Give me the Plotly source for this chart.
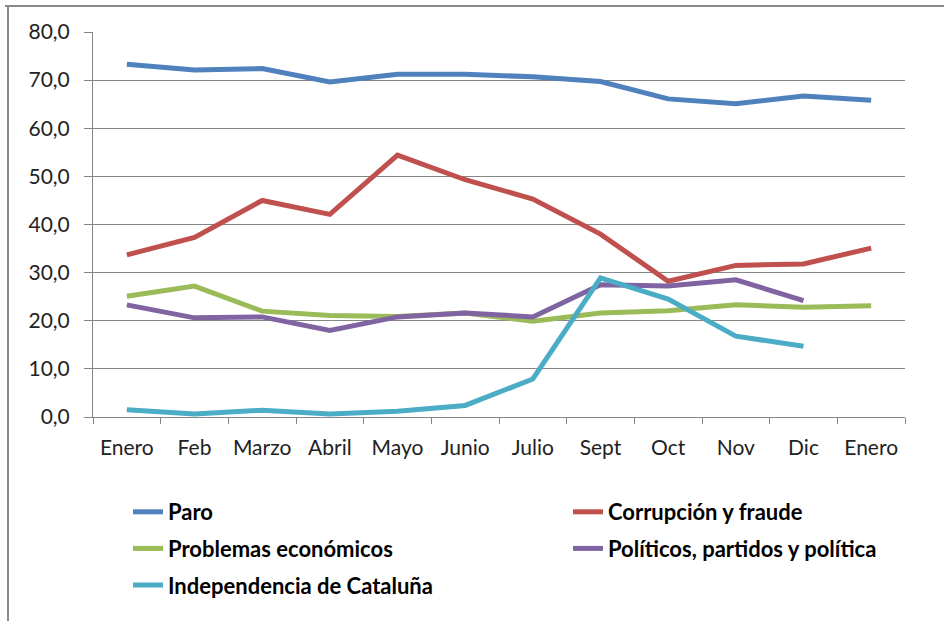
import plotly.graph_objects as go

months = ["Enero", "Feb", "Marzo", "Abril", "Mayo", "Junio", "Julio",
          "Sept", "Oct", "Nov", "Dic", "Enero"]

paro = [73.3, 72.1, 72.4, 69.6, 71.2, 71.2, 70.7, 69.7, 66.1, 65.1, 66.7, 65.8]
corrupcion = [33.7, 37.3, 45.0, 42.1, 54.4, 49.3, 45.3, 38.0, 28.2, 31.5, 31.8, 35.1]
economicos = [25.1, 27.2, 22.0, 21.1, 20.9, 21.6, 19.9, 21.6, 22.1, 23.3, 22.8, 23.1]
politicos = [23.3, 20.6, 20.8, 18.0, 20.8, 21.6, 20.8, 27.5, 27.2, 28.5, 24.2, None]
cataluna = [1.5, 0.6, 1.4, 0.6, 1.2, 2.4, 7.9, 28.9, 24.5, 16.8, 14.7, None]

series = [
    ("Paro", paro, "#4F81BD", "legend"),
    ("Corrupción y fraude", corrupcion, "#C0504D", "legend2"),
    ("Problemas económicos", economicos, "#9BBB59", "legend"),
    ("Políticos, partidos y política", politicos, "#8064A2", "legend2"),
    ("Independencia de Cataluña", cataluna, "#4BACC6", "legend"),
]

x = list(range(len(months)))

fig = go.Figure()
for name, vals, color, leg in series:
    fig.add_trace(go.Scatter(
        x=x, y=vals, name=name, mode="lines",
        line=dict(color=color, width=5),
        legend=leg, legendgroup=name,
        connectgaps=False,
    ))

font_family = "Lato, 'Noto Sans', sans-serif"
legend_common = dict(
    orientation="v",
    xanchor="left", yanchor="top",
    font=dict(family=font_family, size=22, color="#000000", weight="bold"),
    bgcolor="rgba(0,0,0,0)",
    tracegroupgap=5,
    itemwidth=30,
)

PW, PH = 812, 385  # plot area size in px

fig.update_layout(
    width=944, height=621,
    margin=dict(l=93, r=39, t=32, b=204),
    paper_bgcolor="white",
    plot_bgcolor="white",
    separators=",.",
    showlegend=True,
    legend=dict(x=(128 - 93) / PW, y=(417 - 491) / PH, **legend_common),
    legend2=dict(x=(568 - 93) / PW, y=(417 - 491) / PH, **legend_common),
    xaxis=dict(
        range=[-0.5, len(months) - 0.5],
        tickmode="array", tickvals=x, ticktext=months,
        ticks="", showgrid=False,
        showline=True, linecolor="#868686", linewidth=1,
        tickfont=dict(family=font_family, size=21, color="#222222"),
        ticklabelstandoff=12,
        minor=dict(tickmode="array",
                   tickvals=[v - 0.5 for v in x] + [len(months) - 0.5],
                   ticks="outside", ticklen=6, tickcolor="#868686",
                   showgrid=False),
        zeroline=False,
    ),
    yaxis=dict(
        range=[0, 80], dtick=10, tickformat=".1f",
        ticks="outside", ticklen=8, tickcolor="#868686",
        showgrid=True, gridcolor="#868686", gridwidth=1,
        showline=True, linecolor="#868686", linewidth=1,
        tickfont=dict(family=font_family, size=21, color="#222222"),
        ticklabelstandoff=10,
        zeroline=False,
    ),
    shapes=[
        dict(type="line", xref="paper", yref="paper",
             x0=-88 / PW, x1=1.2, y0=(417 - 6) / PH, y1=(417 - 6) / PH,
             line=dict(color="#8a8a8a", width=2)),
        dict(type="line", xref="paper", yref="paper",
             x0=-85 / PW, x1=-85 / PW, y0=(417 - 6) / PH, y1=(417 - 640) / PH,
             line=dict(color="#8a8a8a", width=2)),
    ],
)

fig.write_html(
    "out.html",
    config={"displayModeBar": False},
    post_script="document.body.style.margin='0';document.body.style.overflow='hidden';",
)
